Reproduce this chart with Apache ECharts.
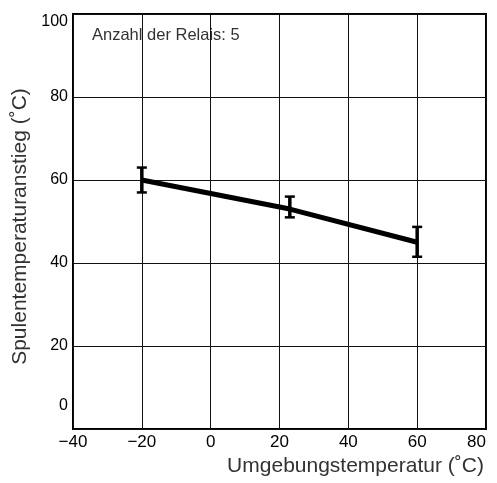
<!DOCTYPE html>
<html><head><meta charset="utf-8">
<script src="https://cdn.jsdelivr.net/npm/echarts@6/dist/echarts.min.js"></script>
<style>html,body{margin:0;padding:0;background:#fff}#c{width:497px;height:483px}</style>
</head><body><div id="c"></div>
<script>
var ambientTemps = [-20, 23, 60];
var coilRise = [60, 53, 45];
var errLow = [57, 51, 41.5];
var errHigh = [63, 56, 48.7];
var xTickLabels = {'-40':'\u221240','-20':'\u221220','0':'0','20':'20','40':'40','60':'60','80':'80'};
var xTitle = 'Umgebungstemperatur (\u02DAC)';
var yTitle = 'Spulentemperaturanstieg (\u02DAC)';
var note = 'Anzahl der Relais: 5';

var chart = echarts.init(document.getElementById('c'), null, {renderer:'canvas'});
var font = 'Liberation Sans, Arial, Helvetica, sans-serif';
chart.setOption({
  animation:false,
  backgroundColor:'#fff',
  grid:{left:73,right:11,top:14,bottom:54,show:true,borderColor:'#000',borderWidth:2,backgroundColor:'transparent',
    containLabel:false,outerBoundsMode:'none'},
  xAxis:{type:'value',min:-40,max:80,interval:20,
    axisLine:{show:false},axisTick:{show:false},
    splitLine:{show:true,lineStyle:{color:'#111',width:1}},
    axisLabel:{color:'#000',fontFamily:font,fontSize:17,margin:5,alignMaxLabel:'right',hideOverlap:false,
      formatter:function(v){return xTickLabels[String(v)];}},
    name:xTitle,nameLocation:'middle',nameGap:19,
    nameTextStyle:{color:'#333',fontFamily:font,fontSize:21,verticalAlign:'top',padding:[0,0,0,152]}
  },
  yAxis:{type:'value',min:0,max:100,interval:20,
    axisLine:{show:false},axisTick:{show:false},
    splitLine:{show:true,lineStyle:{color:'#111',width:1}},
    axisLabel:{color:'#000',fontFamily:font,fontSize:16,margin:5,
      formatter:function(v){ if(v===0) return '{lo|0}'; if(v===100) return '{hi|100}'; return String(v);},
      rich:{lo:{fontFamily:font,fontSize:16,color:'#000',padding:[0,0,46,0]},
            hi:{fontFamily:font,fontSize:16,color:'#000',padding:[16,0,0,0]}}},
    name:yTitle,nameLocation:'middle',nameGap:35,nameRotate:90,
    nameTextStyle:{color:'#333',fontFamily:font,fontSize:21,padding:[0,10,0,0]}
  },
  graphic:[{type:'text',left:92,top:27,style:{text:note,fill:'#333',font:'16.5px '+font}}],
  series:[
    {type:'line',data:ambientTemps.map(function(x,i){return [x,coilRise[i]];}),
     symbol:'none',lineStyle:{color:'#000',width:5},z:3},
    {type:'custom',z:4,
     data:ambientTemps.map(function(x,i){return [x,errLow[i],errHigh[i]];}),
     renderItem:function(params,api){
       var lo=api.coord([api.value(0),api.value(1)]);
       var hi=api.coord([api.value(0),api.value(2)]);
       var w=5;
       var st={stroke:'#000',lineWidth:2.5};
       return {type:'group',children:[
         {type:'line',shape:{x1:lo[0],y1:lo[1],x2:hi[0],y2:hi[1]},style:{stroke:'#000',lineWidth:3.5}},
         {type:'line',shape:{x1:lo[0]-w,y1:lo[1],x2:lo[0]+w,y2:lo[1]},style:st},
         {type:'line',shape:{x1:hi[0]-w,y1:hi[1],x2:hi[0]+w,y2:hi[1]},style:st}
       ]};
     }}
  ]
});
</script></body></html>
